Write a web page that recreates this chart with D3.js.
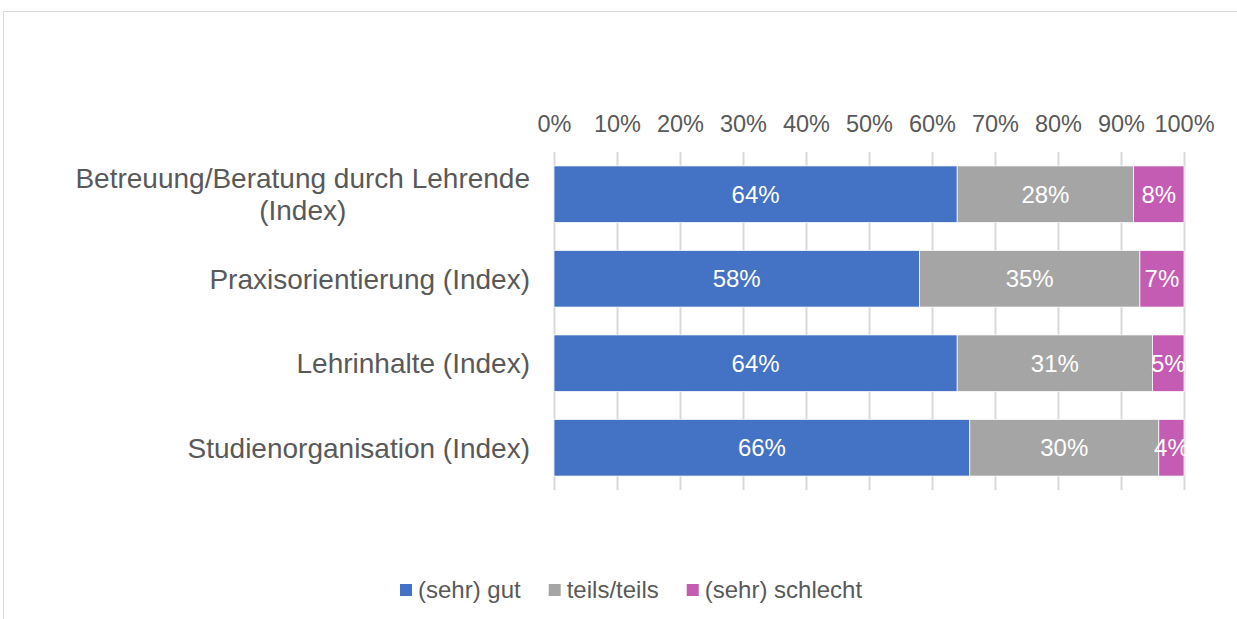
<!DOCTYPE html>
<html>
<head>
<meta charset="utf-8">
<script src="https://cdn.jsdelivr.net/npm/d3@7"></script>
<style>
  body { margin: 0; background: #fff; }
  svg text { font-family: "Liberation Sans", Arial, sans-serif; fill: #595959; }
</style>
</head>
<body>
<div id="chart"></div>
<script>
// categories and values (percent)
const categories = [
    ["Betreuung/Beratung durch Lehrende", "(Index)"],
    ["Praxisorientierung (Index)"],
    ["Lehrinhalte (Index)"],
    ["Studienorganisation (Index)"]
];
const seriesNames = ["(sehr) gut", "teils/teils", "(sehr) schlecht"];
const gut = [64, 58, 64, 66];
const teils = [28, 35, 31, 30];
const schlecht = [8, 7, 5, 4];
const tickValues = [0, 10, 20, 30, 40, 50, 60, 70, 80, 90, 100];
const colors = ["#4472C4", "#A5A5A5", "#C55CB4"];

let width = 1237, height = 619;
let margin = { top: 152, bottom: 129, left: 554, right: 53 };

let svg = d3.select("#chart").append("svg")
    .attr("width", width)
    .attr("height", height);

// outer frame (only top and left show)
svg.append("line").attr("x1", 3.5).attr("x2", width).attr("y1", 11.5).attr("y2", 11.5)
    .attr("stroke", "#d9d9d9");
svg.append("line").attr("x1", 3.5).attr("x2", 3.5).attr("y1", 11.5).attr("y2", height)
    .attr("stroke", "#d9d9d9");

let x = d3.scaleLinear().domain([0, 100]).range([margin.left, width - margin.right]);
let y = d3.scaleBand().domain(d3.range(categories.length))
    .range([margin.top, height - margin.bottom]).paddingInner(0.33).paddingOuter(0.165);

// gridlines
svg.append("g")
    .attr("transform", "translate(0," + (height - margin.bottom) + ")")
    .call(d3.axisBottom(x).tickValues(tickValues).tickSize(-(height - margin.bottom - margin.top)).tickFormat(""))
    .call(g => g.select(".domain").remove())
    .call(g => g.selectAll("line").attr("stroke", "#d9d9d9").attr("stroke-width", 2));

// tick labels on top
svg.append("g")
    .attr("transform", "translate(0," + margin.top + ")")
    .call(d3.axisTop(x).tickValues(tickValues).tickSize(0).tickPadding(20).tickFormat(d => d + "%"))
    .call(g => g.select(".domain").remove())
    .call(g => g.selectAll("text").attr("font-size", 23.5).style("fill", "#595959")
        .style("font-family", "Liberation Sans, Arial, sans-serif"));

// stack
let rows = categories.map((c, i) => ({ i: i, vals: [gut[i], teils[i], schlecht[i]] }));
let segs = [];
rows.forEach(r => {
    let acc = 0;
    r.vals.forEach((v, k) => {
        segs.push({ i: r.i, k: k, x0: acc, x1: acc + v, v: v });
        acc += v;
    });
});

svg.append("g").selectAll("rect")
    .data(segs).enter().append("rect")
    .attr("x", d => x(d.x0))
    .attr("width", d => x(d.x1) - x(d.x0))
    .attr("y", d => y(d.i))
    .attr("height", y.bandwidth())
    .attr("fill", d => colors[d.k])
    .attr("stroke", "#fff")
    .attr("stroke-width", 0.75);

svg.append("g").selectAll("text")
    .data(segs).enter().append("text")
    .attr("x", d => (x(d.x0) + x(d.x1)) / 2)
    .attr("y", d => y(d.i) + y.bandwidth() / 2)
    .attr("dy", "0.35em")
    .attr("text-anchor", "middle")
    .attr("font-size", 24)
    .style("fill", "#fff")
    .text(d => d.v + "%");

// category labels
categories.forEach((lines, i) => {
    let cy = y(i) + y.bandwidth() / 2;
    let lh = 32;
    let t = svg.append("text")
        .attr("text-anchor", "middle")
        .attr("font-size", 28);
    lines.forEach((ln, j) => {
        t.append("tspan")
            .attr("x", 0)
            .attr("y", cy + (j - (lines.length - 1) / 2) * lh)
            .attr("dy", "0.35em")
            .text(ln);
    });
    // right align the block, center the lines
    let w = t.node().getBBox().width;
    t.selectAll("tspan").attr("x", 530 - w / 2);
});

// legend
let legend = svg.append("g").attr("transform", "translate(0,590)");
let lx = 400;
seriesNames.forEach((name, k) => {
    legend.append("rect").attr("x", lx).attr("y", -6).attr("width", 12).attr("height", 12)
        .attr("fill", colors[k]);
    let t = legend.append("text").attr("x", lx + 18).attr("dy", "0.35em")
        .attr("font-size", 24).text(name);
    lx += 18 + t.node().getComputedTextLength() + 28;
});
</script>
</body>
</html>
